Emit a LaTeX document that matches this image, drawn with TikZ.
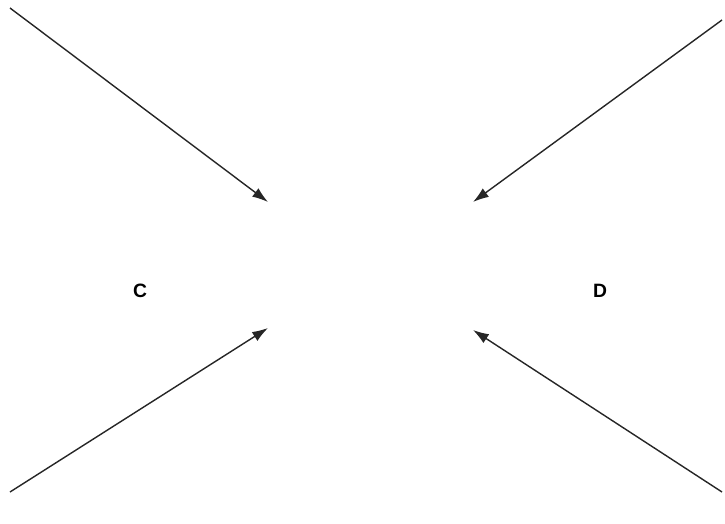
\documentclass[tikz,border=0pt]{standalone}
\usepackage{fontspec}
\setmainfont{Liberation Sans}
\usetikzlibrary{arrows.meta}

\begin{document}
\begin{tikzpicture}[x=0.02cm, y=-0.02cm,
        flow/.style={-{Latex[length=9pt, width=6pt]}, line width=0.8pt, black!85},
        pole/.style={font=\bfseries\fontsize{11}{13}\selectfont}]

        \useasboundingbox (0,0) rectangle (725,524);

        \coordinate (tlstart) at (10,8);
        \coordinate (tlend) at (268,202);
        \coordinate (trstart) at (722,20);
        \coordinate (trend) at (473,202);
        \coordinate (blstart) at (10,492);
        \coordinate (blend) at (268,328);
        \coordinate (brstart) at (722,492);
        \coordinate (brend) at (473,330);

        \node[pole] (c) at (140,291) {C};
        \node[pole] (d) at (600,291) {D};

        \draw[flow] (tlstart) -- (tlend);
        \draw[flow] (trstart) -- (trend);
        \draw[flow] (blstart) -- (blend);
        \draw[flow] (brstart) -- (brend);
      \end{tikzpicture}
\end{document}
